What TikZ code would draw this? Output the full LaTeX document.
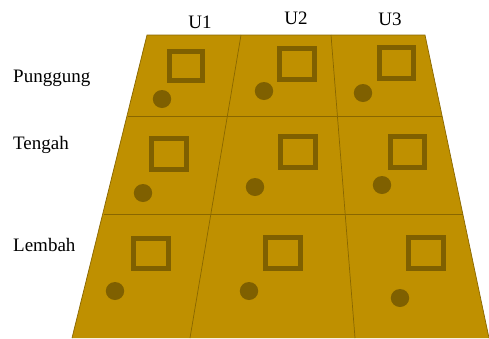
\documentclass[tikz,border=0pt]{standalone}
\usepackage{fontspec}
\setmainfont{Liberation Serif}
\definecolor{gold}{HTML}{BF9000}
\definecolor{darkgold}{HTML}{7F6000}
\begin{document}
\begin{tikzpicture}[x=1pt,y=-1pt,
  lbl/.style={inner sep=0pt,font=\fontsize{19}{22}\selectfont},
  plotsq/.style={draw=darkgold,line width=5pt},
  dot/.style={fill=darkgold},
  grid/.style={draw=darkgold!85!gold,line width=0.7pt}]
\useasboundingbox (0,0) rectangle (489,338);
% field
\coordinate (TL) at (147,35);
\coordinate (TR) at (425,35);
\coordinate (BR) at (489,338);
\coordinate (BL) at (72,338);
\fill[gold] (TL) -- (TR) -- (BR) -- (BL) -- cycle;
\draw[grid] (BL) -- (TL) -- (TR) -- (BR);
% horizontal dividers
\draw[grid] (127.9,116) -- (442.1,116);
\draw[grid] (103.6,214) -- (462.8,214);
% vertical dividers
\draw[grid] (241,35) -- (190,338);
\draw[grid] (331,35) -- (355,338);
% squares (outer extents)
\foreach \x/\y/\w/\h in {167/49/38/34, 277/46/40/36, 377/45/39/36,
                         149/136/40/36, 278/134/40/36, 388/134/39/36,
                         131/236/40/35, 263/235/40/36, 406/235/40/36}{
  \draw[plotsq] (\x+2.5,\y+2.5) rectangle (\x+\w-2.5,\y+\h-2.5);
}
% circles
\foreach \cx/\cy in {162/99, 264/91, 363/93,
                     143/193, 255/187, 382/185,
                     115/291, 249/291, 400/298}{
  \fill[dot] (\cx,\cy) ellipse [x radius=9.2, y radius=9];
}
% labels
\node[lbl,anchor=base] (u1) at (200,28) {U1};
\node[lbl,anchor=base] (u2) at (296,24) {U2};
\node[lbl,anchor=base] (u3) at (390,25) {U3};
\node[lbl,anchor=base west] (pg) at (13,82) {Punggung};
\node[lbl,anchor=base west] (tg) at (13,149) {Tengah};
\node[lbl,anchor=base west] (lb) at (13,251) {Lembah};
\end{tikzpicture}
\end{document}
